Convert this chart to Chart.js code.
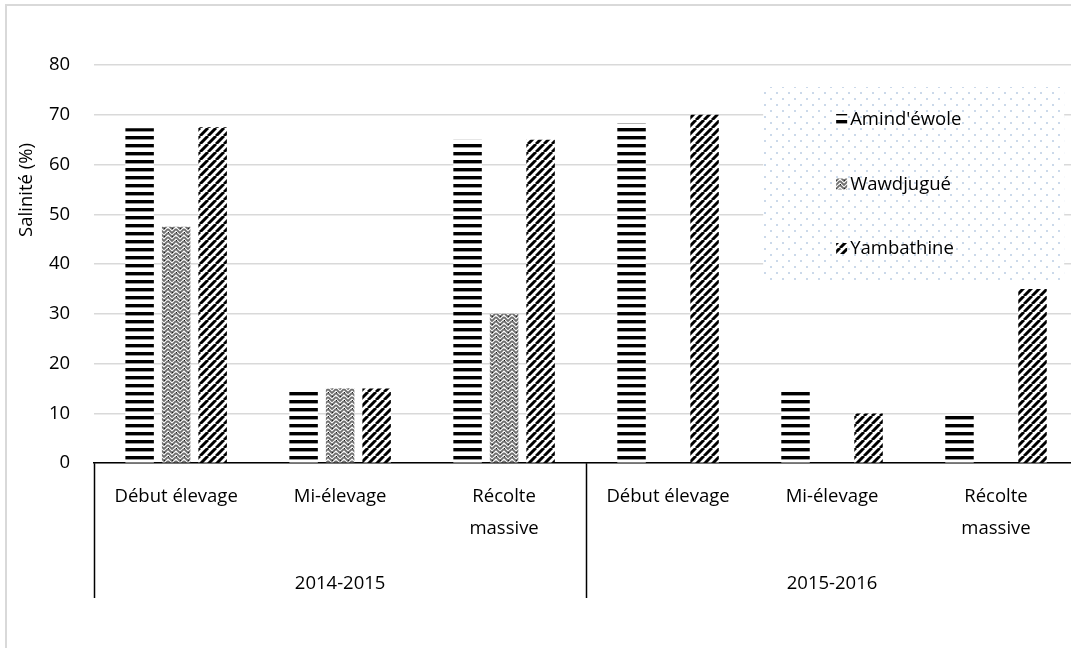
<!DOCTYPE html>
<html>
<head>
<meta charset="utf-8">
<script src="https://cdn.jsdelivr.net/npm/chart.js@4.4.1/dist/chart.umd.min.js"></script>
<style>
  body { margin: 0; overflow: hidden; background: #fff; }
  #wrap { position: absolute; left: 0; top: 0; width: 1090px; height: 648px; }
  #frame { position: absolute; left: 5px; top: 4px; width: 1200px; height: 800px;
           border: 2px solid #d9d9d9; pointer-events: none; }
</style>
</head>
<body>
<div id="frame"></div>
<div id="wrap"><canvas id="chart"></canvas></div>
<script>
// data
const stages = ["Début élevage", "Mi-élevage", ["Récolte", "massive"]];
const seasons = ["2014-2015", "2015-2016"];
const seriesNames = ["Amind'éwole", "Wawdjugué", "Yambathine"];
const amindewole = [67.3, 15, 65, 68.3, 15, 9.8];
const wawdjugue = [47.5, 15, 30, null, null, null];
const yambathine = [67.5, 15, 65, 70, 10, 35];
const yTicks = [0, 80, 10]; // min, max, step

const labels = seasons.flatMap(() => stages);
const FONT = "'Open Sans', sans-serif";
const FSIZE = 18.5;

/* ---------------------------------------------------
    fill patterns
----------------------------------------------------- */
function tile(w, h, draw) {
  const c = document.createElement("canvas");
  c.width = w; c.height = h;
  const g = c.getContext("2d");
  g.fillStyle = "#fff";
  g.fillRect(0, 0, w, h);
  draw(g);
  return document.getElementById("chart").getContext("2d").createPattern(c, "repeat");
}

const hStripes = tile(8, 8, g => {
  g.fillStyle = "#000";
  g.fillRect(0, 0, 8, 3);
  g.fillStyle = "#9a9a9a";
  g.fillRect(0, 3, 8, 1);
});

const weave = tile(8, 8, g => {
  g.strokeStyle = "#6e6e6e";
  g.lineWidth = 1.8;
  g.beginPath();
  g.moveTo(0, 1); g.lineTo(4, 5); g.lineTo(8, 1);
  g.moveTo(0, 5); g.lineTo(4, 9); g.lineTo(8, 5);
  g.moveTo(0, -3); g.lineTo(4, 1); g.lineTo(8, -3);
  g.stroke();
  g.fillStyle = "#222";
  g.fillRect(4, 4, 1, 1);
  g.fillRect(0, 0, 1, 1);
});

const diag = tile(8, 8, g => {
  g.strokeStyle = "#000";
  g.lineWidth = 3;
  g.beginPath();
  for (let o = -8; o <= 8; o += 8) {
    g.moveTo(o, 8); g.lineTo(o + 8, 0);
  }
  g.stroke();
});

const dots = tile(12, 12, g => {
  g.fillStyle = "#cbd9ea";
  g.fillRect(2, 2, 2, 2);
  g.fillRect(8, 8, 2, 2);
});

/* ---------------------------------------------------
    plugins: y title, group separators, legend box
----------------------------------------------------- */
const extras = {
  id: "extras",
  afterDraw(chart) {
    const ctx = chart.ctx;
    const area = chart.chartArea;
    const x = chart.scales.x;
    const x2 = chart.scales.x2;

    // y title
    ctx.save();
    ctx.translate(27, area.top + 125);
    ctx.rotate(-Math.PI / 2);
    ctx.font = FSIZE + "px " + FONT;
    ctx.fillStyle = "#000";
    ctx.textAlign = "center";
    ctx.textBaseline = "middle";
    ctx.fillText("Salinité (%)", 0, 0);
    ctx.restore();

    // separators between seasons
    const half = (x.getPixelForValue(1) - x.getPixelForValue(0)) / 2;
    ctx.save();
    ctx.strokeStyle = "#000";
    ctx.lineWidth = 1.5;
    ctx.beginPath();
    for (let i = 0; i <= labels.length; i += stages.length) {
      const px = Math.round(x.getPixelForValue(i) - half) + 0.5;
      ctx.moveTo(px, x.top);
      ctx.lineTo(px, x2.bottom - 7);
    }
    ctx.stroke();
    ctx.restore();

    // legend box
    const lx = area.left + 669, ly = area.top + 22, lw = 301, lh = 194;
    ctx.save();
    ctx.fillStyle = dots;
    ctx.fillRect(lx, ly, lw, lh);
    ctx.font = FSIZE + "px " + FONT;
    ctx.textBaseline = "middle";
    ctx.textAlign = "left";
    chart.data.datasets.forEach((ds, i) => {
      const cy = ly + 33 + i * 64.5;
      ctx.fillStyle = "#fff";
      ctx.fillRect(lx + 73, cy - 6, 11, 11);
      ctx.fillStyle = ds.backgroundColor;
      ctx.fillRect(lx + 73, cy - 6, 11, 11);
      ctx.fillStyle = "#000";
      ctx.fillText(ds.label, lx + 87, cy);
    });
    ctx.restore();
  }
};

new Chart(document.getElementById("chart"), {
  type: "bar",
  data: {
    labels: labels,
    datasets: [
      { label: seriesNames[0], data: amindewole, backgroundColor: hStripes },
      { label: seriesNames[1], data: wawdjugue, backgroundColor: weave },
      { label: seriesNames[2], data: yambathine, backgroundColor: diag },
    ],
  },
  options: {
    responsive: true,
    maintainAspectRatio: false,
    animation: false,
    layout: { padding: { left: 25, right: 12, top: 65, bottom: 43 } },
    datasets: { bar: { categoryPercentage: 0.668, barPercentage: 0.78, borderWidth: 0 } },
    plugins: { legend: { display: false }, tooltip: { enabled: false } },
    scales: {
      y: {
        min: yTicks[0], max: yTicks[1],
        ticks: { stepSize: yTicks[2], padding: 24, color: "#000", font: { family: FONT, size: FSIZE } },
        grid: { color: "#d9d9d9", lineWidth: 1.5, drawTicks: false },
        border: { display: false },
      },
      x: {
        ticks: { autoSkip: false, maxRotation: 0, padding: 18, color: "#000",
                 font: { family: FONT, size: FSIZE, lineHeight: 1.72 } },
        grid: { display: false, drawTicks: false },
        border: { display: true, color: "#000", width: 1.5 },
      },
      x2: {
        type: "category",
        position: "bottom",
        labels: seasons,
        ticks: { padding: 10, color: "#000", font: { family: FONT, size: FSIZE } },
        grid: { display: false, drawTicks: false },
        border: { display: false },
      },
    },
  },
  plugins: [extras],
});
</script>
</body>
</html>
